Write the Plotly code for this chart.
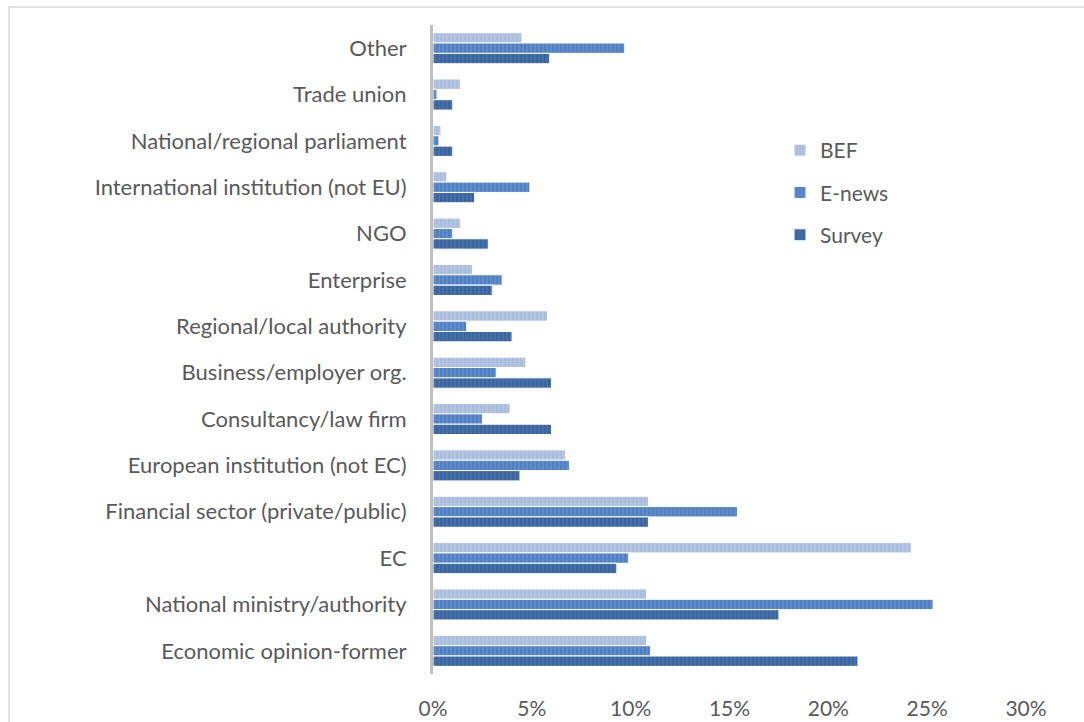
import plotly.graph_objects as go

categories = ["Other", "Trade union", "National/regional parliament",
              "International institution (not EU)", "NGO", "Enterprise",
              "Regional/local authority", "Business/employer org.",
              "Consultancy/law firm", "European institution (not EC)",
              "Financial sector (private/public)", "EC",
              "National ministry/authority", "Economic opinion-former"]
bef = [4.5, 1.4, 0.4, 0.7, 1.4, 2.0, 5.8, 4.7, 3.9, 6.7, 10.9, 24.2, 10.8, 10.8]
enews = [9.7, 0.2, 0.3, 4.9, 1.0, 3.5, 1.7, 3.2, 2.5, 6.9, 15.4, 9.9, 25.3, 11.0]
survey = [5.9, 1.0, 1.0, 2.1, 2.8, 3.0, 4.0, 6.0, 6.0, 4.4, 10.9, 9.3, 17.5, 21.5]
series_names = ["BEF", "E-news", "Survey"]
series_values = [bef, enews, survey]
colors = ["#a9bcdd", "#4f80c4", "#3b659f"]
stripe = ["#c9d5ea", "#7ea2d6", "#5a82bd"]

fig = go.Figure()
for name, vals, c, s in zip(series_names, series_values, colors, stripe):
    fig.add_trace(go.Bar(
        y=categories, x=[v / 100 for v in vals], name=name, orientation="h",
        legendgroup=name,
        marker=dict(color=c, line=dict(color="white", width=1),
                    pattern=dict(shape="|", fgcolor=s, size=4, solidity=0.35)),
    ))

L, R, T, B = 433, 58, 25, 48
W, H = 1084, 722
pw, ph = W - L - R, H - T - B

fig.update_layout(
    width=W, height=H, barmode="group", bargap=0.33, bargroupgap=0,
    margin=dict(l=L, r=R, t=T, b=B, autoexpand=False),
    paper_bgcolor="white", plot_bgcolor="white",
    font=dict(family="Lato, Carlito, sans-serif", color="#595959"),
    showlegend=True,
    legend=dict(x=(780 - L) / pw, y=(H - B - 130) / ph, xanchor="left", yanchor="top",
                font=dict(size=21, color="#595959"), traceorder="grouped",
                tracegroupgap=12, bgcolor="rgba(0,0,0,0)", itemwidth=30),
    xaxis=dict(range=[0, 0.3], dtick=0.05, tickformat=".0%", showgrid=False,
               zeroline=False, showline=False, ticks="outside", ticklen=16,
               tickcolor="rgba(0,0,0,0)", tickfont=dict(size=21, color="#595959"),
               automargin=False),
    yaxis=dict(autorange="reversed", showgrid=False, showline=True,
               linecolor="#bfbfbf", linewidth=3, ticks="", ticklabelstandoff=19,
               tickfont=dict(size=22, color="#595959"), automargin=False),
    shapes=[dict(type="rect", xref="paper", yref="paper",
                 x0=(9 - L) / pw, x1=(1095 - L) / pw,
                 y0=(H - B - 740) / ph, y1=(H - B - 7) / ph,
                 line=dict(color="#d9d9d9", width=1.5), fillcolor="rgba(0,0,0,0)",
                 layer="below")],
)

fig.write_html("out.html")
